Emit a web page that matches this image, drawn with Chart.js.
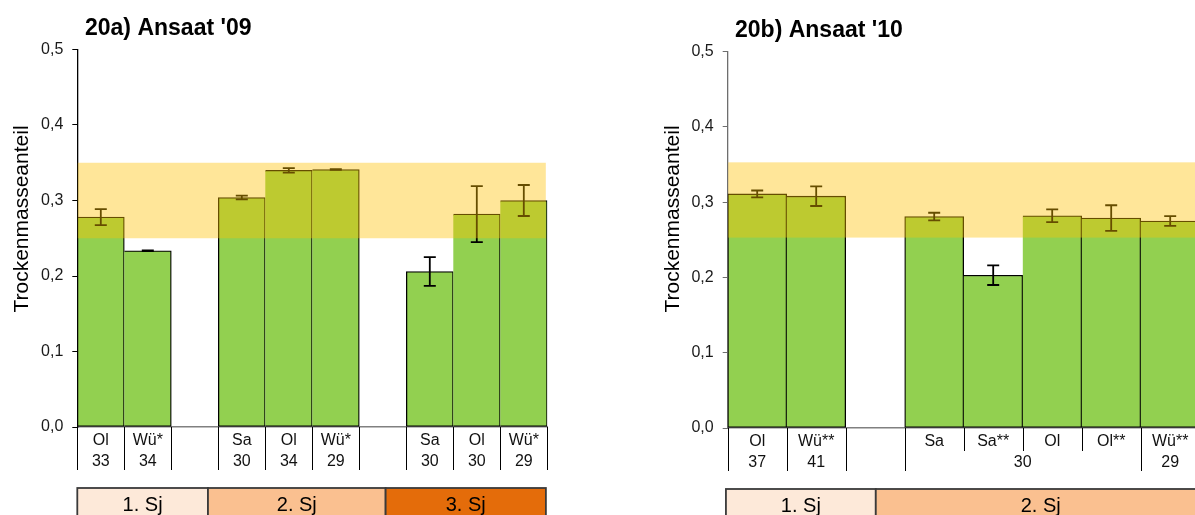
<!DOCTYPE html>
<html>
<head>
<meta charset="utf-8">
<script src="https://cdn.jsdelivr.net/npm/chart.js@4/dist/chart.umd.min.js"></script>
<style>
  body { margin: 0; width: 1195px; height: 515px; overflow: hidden; background: #fff; position: relative; }
  canvas { position: absolute; top: 0; }
</style>
</head>
<body>
<canvas id="chartA" width="600" height="515" style="left:0"></canvas>
<canvas id="chartB" width="620" height="515" style="left:600px"></canvas>
<script>
// Ansaat '09
const labelsA = ['Ol', 'Wü*', '', 'Sa', 'Ol', 'Wü*', '', 'Sa', 'Ol', 'Wü*'];
const valuesA = [0.278, 0.2335, null, 0.304, 0.340, 0.341, null, 0.206, 0.282, 0.300];
const errorsA = [0.0105, 0.0005, null, 0.0025, 0.003, 0.0005, null, 0.019, 0.037, 0.0205];
const countTextA = ['33', '34', '30', '34', '29', '30', '30', '29'];
const countFromA = [0, 1, 3, 4, 5, 7, 8, 9];
const countToA = [0, 1, 3, 4, 5, 7, 8, 9];
const sjTextA = ['1. Sj', '2. Sj', '3. Sj'];
const sjFromA = [0, 2.78, 6.56];
const sjToA = [2.78, 6.56, 9.97];
const bandA = [0.25, 0.35];

// Ansaat '10
const labelsB = ['Ol', 'Wü**', '', 'Sa', 'Sa**', 'Ol', 'Ol**', 'Wü**'];
const valuesB = [0.311, 0.308, null, 0.281, 0.203, 0.282, 0.279, 0.275];
const errorsB = [0.0046, 0.013, null, 0.005, 0.013, 0.0084, 0.017, 0.0064];
const countTextB = ['37', '41', '30', '29'];
const countFromB = [0, 1, 3, 7];
const countToB = [0, 1, 6, 7];
const sjTextB = ['1. Sj', '2. Sj'];
const sjFromB = [-0.03, 2.51];
const sjToB = [2.51, 8.1];
const bandB = [0.253, 0.353];

const yTicks = [0, 0.1, 0.2, 0.3, 0.4, 0.5];
const sjColors = ['#FDE9D9', '#FAC090', '#E46C0A'];
const FONT = '"Liberation Sans", Arial, sans-serif';

function makePanel(id, p) {
    const n = p.labels.length;
    const extras = {
        id: 'extras',
        afterDatasetsDraw(chart) {
            const ctx = chart.ctx;
            const xs = chart.scales.x, ys = chart.scales.y;
            const area = chart.chartArea;
            // error bars
            ctx.save();
            ctx.strokeStyle = '#000';
            ctx.lineWidth = 1.8;
            for (let i = 0; i < n; i++) {
                if (p.values[i] == null) continue;
                const x = xs.getPixelForValue(i);
                const y1 = ys.getPixelForValue(p.values[i] + p.errors[i]);
                const y2 = ys.getPixelForValue(p.values[i] - p.errors[i]);
                ctx.beginPath();
                ctx.moveTo(x, y1); ctx.lineTo(x, y2);
                ctx.moveTo(x - 6, y1); ctx.lineTo(x + 6, y1);
                ctx.moveTo(x - 6, y2); ctx.lineTo(x + 6, y2);
                ctx.stroke();
            }
            // optimum band
            const yt = ys.getPixelForValue(p.band[1]);
            const yb = ys.getPixelForValue(p.band[0]);
            ctx.fillStyle = 'rgba(255,192,0,0.4)';
            ctx.fillRect(area.left + 0.5, yt, area.right - area.left - 2, yb - yt);
            ctx.restore();
        },
        afterDraw(chart) {
            const ctx = chart.ctx;
            const xs = chart.scales.x;
            const area = chart.chartArea;
            const edge = k => xs.getPixelForValue(k - 0.5);
            ctx.save();
            // title
            ctx.fillStyle = '#000';
            ctx.font = 'bold 23px ' + FONT;
            ctx.textAlign = 'left';
            ctx.textBaseline = 'alphabetic';
            ctx.fillText(p.title, p.titleX, p.titleY);
            // y axis title
            ctx.save();
            ctx.translate(p.yTitleX, 219);
            ctx.rotate(-Math.PI / 2);
            ctx.font = '21px ' + FONT;
            ctx.textAlign = 'center';
            ctx.textBaseline = 'middle';
            ctx.fillText('Trockenmasseanteil', 0, 0);
            ctx.restore();
            // table lines under the axis
            ctx.strokeStyle = '#000';
            ctx.lineWidth = 1;
            for (let k = 0; k <= n; k++) {
                let inside = false;
                for (let j = 0; j < p.countFrom.length; j++) {
                    if (k > p.countFrom[j] && k <= p.countTo[j]) inside = true;
                }
                const x = Math.round(edge(k)) + 0.5;
                ctx.beginPath();
                ctx.moveTo(x, area.bottom);
                ctx.lineTo(x, inside ? area.bottom + 23 : area.bottom + 43);
                ctx.stroke();
            }
            // labels
            ctx.font = '16px ' + FONT;
            ctx.textAlign = 'center';
            ctx.fillStyle = '#111';
            for (let i = 0; i < n; i++) {
                if (p.labels[i]) ctx.fillText(p.labels[i], xs.getPixelForValue(i), area.bottom + 18);
            }
            for (let j = 0; j < p.countText.length; j++) {
                const x = (xs.getPixelForValue(p.countFrom[j]) + xs.getPixelForValue(p.countTo[j])) / 2;
                ctx.fillText(p.countText[j], x, area.bottom + 39);
            }
            // Standjahr boxes
            ctx.font = '20px ' + FONT;
            ctx.lineWidth = 1.8;
            ctx.strokeStyle = '#3a3a3a';
            for (let j = 0; j < p.sjText.length; j++) {
                const x1 = edge(p.sjFrom[j]), x2 = edge(p.sjTo[j]);
                ctx.fillStyle = sjColors[j];
                ctx.fillRect(x1, p.sjTop, x2 - x1, 40);
                ctx.strokeRect(x1, p.sjTop, x2 - x1, 40);
                ctx.fillStyle = '#000';
                ctx.fillText(p.sjText[j], (x1 + x2) / 2, p.sjTop + 23);
            }
            ctx.restore();
        }
    };

    return new Chart(document.getElementById(id), {
        type: 'bar',
        data: {
            labels: p.labels,
            datasets: [{
                data: p.values,
                backgroundColor: '#92D050',
                borderColor: '#000',
                borderSkipped: false,
                borderWidth: c => ({
                    top: 1.3, right: 1.3, bottom: 1.3,
                    left: (c.dataIndex === 0 || p.values[c.dataIndex - 1] == null) ? 1.3 : 0
                }),
                barPercentage: 1,
                categoryPercentage: 1
            }]
        },
        options: {
            responsive: false,
            animation: false,
            layout: { padding: { top: p.top, right: p.right, bottom: 0, left: 0 } },
            plugins: { legend: { display: false }, tooltip: { enabled: false } },
            scales: {
                x: {
                    ticks: { display: false },
                    grid: { display: false },
                    border: { display: true, color: '#808080', width: 1.5 },
                    afterFit: s => { s.height = p.xHeight; }
                },
                y: {
                    min: 0,
                    max: 0.5,
                    afterBuildTicks: s => { s.ticks = yTicks.map(v => ({ value: v })); },
                    ticks: {
                        padding: 9,
                        color: '#1a1a1a',
                        font: { family: FONT, size: 16 },
                        callback: v => v.toFixed(1).replace('.', ',')
                    },
                    grid: { drawOnChartArea: false, tickLength: 5, color: p.axisColor },
                    border: { display: true, color: p.axisColor, width: 1.3 },
                    afterFit: s => { s.width = p.yWidth; }
                }
            }
        },
        plugins: [extras]
    });
}

makePanel('chartA', {
    labels: labelsA, values: valuesA, errors: errorsA,
    countText: countTextA, countFrom: countFromA, countTo: countToA,
    sjText: sjTextA, sjFrom: sjFromA, sjTo: sjToA, band: bandA,
    title: "20a) Ansaat '09", titleX: 85, titleY: 35, yTitleX: 22,
    top: 49.5, right: 52.7, yWidth: 77.3, xHeight: 88, sjTop: 488, axisColor: '#000'
});

makePanel('chartB', {
    labels: labelsB, values: valuesB, errors: errorsB,
    countText: countTextB, countFrom: countFromB, countTo: countToB,
    sjText: sjTextB, sjFrom: sjFromB, sjTo: sjToB, band: bandB,
    title: "20b) Ansaat '10", titleX: 135, titleY: 37, yTitleX: 73,
    top: 51.7, right: 20.3, yWidth: 127.7, xHeight: 87, sjTop: 489, axisColor: '#6e6e6e'
});
</script>
</body>
</html>
